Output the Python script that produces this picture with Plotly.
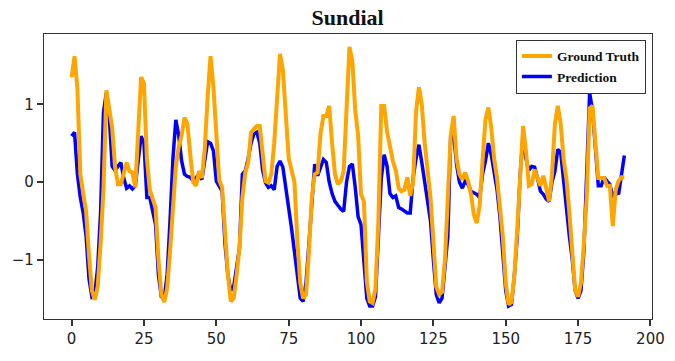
import plotly.graph_objects as go

title_text = "Sundial"
series_names = ["Ground Truth", "Prediction"]

ground_truth = [
    1.35, 1.62, 1.2, 0.1, -0.15, -0.38, -0.95, -1.4, -1.52, -1.35,
    -0.8, -0.1, 1.18, 0.96, 0.7, 0.2, -0.03, -0.03, 0.1, 0.25,
    0.14, 0.12, -0.07, 0.6, 1.35, 1.27, 0.3, -0.1, -0.2, -0.33,
    -1.0, -1.45, -1.55, -1.37, -0.9, -0.3, 0.2, 0.45, 0.6, 0.83,
    0.75, 0.35, 0.0, -0.05, 0.14, 0.05, 0.42, 1.1, 1.62, 1.22,
    0.7, 0.02, -0.07, -0.6, -1.2, -1.54, -1.5, -1.2, -0.85, -0.2,
    0.12, 0.25, 0.64, 0.68, 0.72, 0.72, 0.4, 0.01, -0.01, 0.1,
    0.5, 1.1, 1.65, 1.44, 0.83, 0.31, 0.15, 0.0, -0.76, -1.3,
    -1.5, -1.45, -0.9, -0.2, 0.1, 0.12, 0.62, 0.85, 0.85, 0.98,
    0.5, 0.1, -0.03, 0.01, 0.14, 0.9, 1.74, 1.56, 0.92, 0.6,
    -0.16, -0.25, -1.28, -1.54, -1.56, -1.37, -0.5, 0.98, 0.98, 0.65,
    0.44, 0.27, 0.15, -0.08, -0.12, -0.1, 0.06, -0.18, 0.0, 0.9,
    1.22, 1.0, 0.5, 0.1, -0.2, -0.76, -1.35, -1.45, -1.42, -1.0,
    -0.3, 0.6, 0.85, 0.3, 0.1, 0.03, 0.12, 0.01, -0.16, -0.42,
    -0.53, -0.3, 0.27, 0.8, 0.96, 0.7, 0.3, 0.05, -0.33, -0.7,
    -1.3, -1.58, -1.55, -1.2, -0.6, 0.0, 0.72, 0.4, -0.05, -0.03,
    0.16, 0.05, -0.05, 0.08, -0.1, -0.25, 0.1, 0.75, 0.98, 0.75,
    0.3, 0.03, -0.4, -0.9, -1.4, -1.48, -1.3, -0.8, -0.2, 0.95,
    0.98, 0.5, 0.05, 0.05, 0.05, -0.05, -0.05, -0.57, -0.1, 0.01,
    0.06, 0.06,
]

prediction = [
    0.59, 0.64, 0.1, -0.2, -0.4, -0.7, -1.25, -1.48, -1.45, -1.1,
    -0.4, 0.9, 1.15, 0.85, 0.2, 0.15, 0.2, 0.25, 0.05, -0.08,
    -0.05, -0.09, -0.05, 0.3, 0.59, 0.5, -0.2, -0.2, -0.4, -0.55,
    -1.2, -1.48, -1.5, -1.2, -0.5, 0.3, 0.8, 0.6, 0.27, 0.1,
    0.07, 0.06, 0.01, 0.05, 0.1, 0.03, 0.3, 0.52, 0.5, 0.4,
    0.01, -0.05, -0.12, -0.8, -1.2, -1.4, -1.35, -1.1, -0.85, 0.1,
    0.14, 0.3, 0.5, 0.62, 0.64, 0.5, 0.15, -0.01, -0.07, -0.05,
    -0.1, 0.2, 0.27, 0.19, -0.05, -0.3, -0.6, -0.9, -1.2, -1.5,
    -1.54, -1.3, -0.8, -0.2, 0.23, 0.08, 0.2, 0.29, 0.25, 0.0,
    -0.15, -0.25, -0.3, -0.35, -0.38, 0.0, 0.2, 0.23, -0.07, -0.45,
    -0.55, -1.05, -1.5, -1.6, -1.6, -1.48, -0.7, 0.05, 0.35, 0.2,
    -0.15, -0.2, -0.18, -0.33, -0.35, -0.38, -0.4, -0.4, 0.05, 0.3,
    0.48, 0.25, 0.0, -0.2, -0.5, -1.0, -1.45, -1.56, -1.5, -1.1,
    -0.7, 0.6, 0.62, 0.23, 0.0, -0.08, 0.01, -0.03, -0.12, -0.14,
    -0.16, -0.2, 0.1, 0.27, 0.5, 0.35, 0.1, -0.1, -0.45, -0.9,
    -1.4, -1.6, -1.58, -1.2, -0.7, 0.1, 0.6, 0.3, 0.15, 0.2,
    0.19, 0.05, -0.12, -0.16, -0.22, -0.25, 0.0, 0.14, 0.42, 0.38,
    0.0, -0.42, -0.7, -1.0, -1.4, -1.5, -1.4, -0.9, 0.1, 1.15,
    0.92, 0.4, -0.05, -0.05, 0.06, 0.01, -0.03, -0.2, -0.12, -0.16,
    0.1, 0.34,
]

time_steps = list(range(len(ground_truth)))
x_ticks = [0, 25, 50, 75, 100, 125, 150, 175, 200]
y_ticks = [-1, 0, 1]

fig = go.Figure()
fig.add_trace(go.Scatter(x=time_steps, y=prediction, mode="lines", name="<b>" + series_names[1] + "</b>",
                         line=dict(color="blue", width=3.5)))
fig.add_trace(go.Scatter(x=time_steps, y=ground_truth, mode="lines", name="<b>" + series_names[0] + "</b>",
                         line=dict(color="orange", width=4)))

n = len(ground_truth) - 1
ymin = min(min(ground_truth), min(prediction))
ymax = max(max(ground_truth), max(prediction))
pad_y = 0.05 * (ymax - ymin)

axis_common = dict(showgrid=False, zeroline=False, showline=True, mirror=True,
                   linecolor="#333333", linewidth=1.2, ticks="outside", ticklen=6,
                   tickwidth=1.5, tickcolor="#333333", automargin=False,
                   tickfont=dict(family="DejaVu Sans, sans-serif", size=15, color="#222222"))

fig.update_layout(
    width=675, height=361,
    margin=dict(l=44, r=23, t=34, b=42),
    paper_bgcolor="white", plot_bgcolor="white",
    title=dict(text="<b>" + title_text + "</b>", x=0.515, xanchor="center", y=0.953, yanchor="middle",
               font=dict(family="Liberation Serif, Times New Roman, serif", size=22, color="#111111")),
    xaxis=dict(range=[-0.05 * n, n * 1.05], tickvals=x_ticks, **axis_common),
    yaxis=dict(range=[ymin - pad_y, ymax + pad_y], tickvals=y_ticks, **axis_common),
    legend=dict(x=0.99, y=0.98, xanchor="right", yanchor="top", traceorder="reversed",
                bgcolor="white", bordercolor="#333333", borderwidth=1,
                font=dict(family="Liberation Serif, Times New Roman, serif", size=13.5, color="#111111"),
                itemwidth=30, tracegroupgap=0),
    showlegend=True,
)

fig.write_html("out.html", config={"displayModeBar": False},
               post_script="document.body.style.margin='0';document.body.style.padding='0';")
